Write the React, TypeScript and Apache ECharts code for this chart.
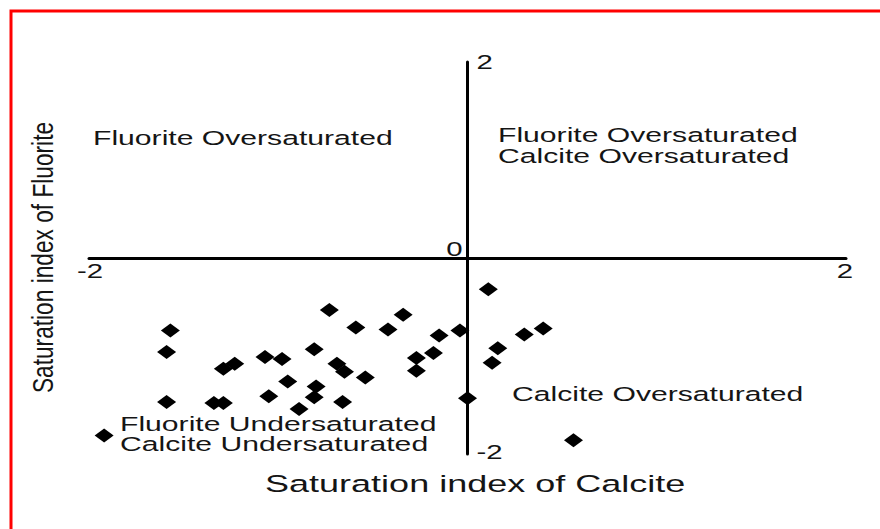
import React, { useEffect, useRef } from "react";
import * as echarts from "echarts";

const calciteSI = [0.11, -0.73, -0.34, -0.59, -0.42, -0.15, -0.04, -1.57, -1.59, -1.29, -1.23, -1.07, -0.98, -0.81, -0.69, -0.65, -0.54, -0.27, -0.18, -0.27, -0.95, -0.8, -0.81, -1.05, -0.89, -0.66, -1.59, -1.34, -1.29, 0.0, -1.92, 0.16, 0.13, 0.3, 0.4, 0.56];
const fluoriteSI = [-0.32, -0.53, -0.58, -0.71, -0.73, -0.79, -0.74, -0.74, -0.96, -1.13, -1.08, -1.01, -1.03, -0.93, -1.08, -1.16, -1.22, -1.02, -0.97, -1.15, -1.26, -1.31, -1.42, -1.41, -1.54, -1.47, -1.47, -1.48, -1.48, -1.43, -1.81, -0.92, -1.07, -0.78, -0.72, -1.86];
const axisTicks = [-2, 0, 2];
const xTitle = "Saturation index of Calcite";
const yTitle = "Saturation index of Fluorite";
const quadrantTL = ["Fluorite Oversaturated"];
const quadrantTR = ["Fluorite Oversaturated", "Calcite Oversaturated"];
const quadrantBR = ["Calcite Oversaturated"];
const quadrantBL = ["Fluorite Undersaturated", "Calcite Undersaturated"];

const FONT = "'Liberation Sans', Arial, Helvetica, sans-serif";
const TXT = "#151515";
const SX = 1.47;

export default function App() {
  const ref = useRef<HTMLDivElement>(null);
  useEffect(() => {
    document.body.style.margin = "0";
    const chart = echarts.init(ref.current!, null, { renderer: "svg" });
    const points = calciteSI.map((x, i) => [x, fluoriteSI[i]]);
    const txt = (text: string, x: number, y: number, size: number, align: string = "left") => ({
      type: "text",
      x,
      y,
      scaleX: SX,
      silent: true,
      style: {
        text,
        fill: TXT,
        fontSize: size,
        fontFamily: FONT,
        textVerticalAlign: "middle",
        textAlign: align,
      },
    });
    const lo = axisTicks[0];
    const hi = axisTicks[axisTicks.length - 1];
    chart.setOption({
      animation: false,
      backgroundColor: "#ffffff",
      grid: { left: 89, right: 34, top: 62, bottom: 75, containLabel: false },
      xAxis: {
        type: "value",
        min: lo,
        max: hi,
        interval: 2,
        axisLine: { onZero: true, lineStyle: { color: "#000", width: 3 } },
        axisTick: { show: false },
        splitLine: { show: false },
        axisLabel: { show: false },
      },
      yAxis: {
        type: "value",
        min: lo,
        max: hi,
        interval: 2,
        axisLine: { onZero: true, lineStyle: { color: "#000", width: 3 } },
        axisTick: { show: false },
        splitLine: { show: false },
        axisLabel: { show: false },
      },
      series: [
        {
          type: "scatter",
          data: points,
          symbol: "diamond",
          symbolSize: [19, 14],
          itemStyle: { color: "#000", opacity: 1 },
          z: 5,
        },
      ],
    });
    const px = (x: number, y: number) => chart.convertToPixel({ gridIndex: 0 }, [x, y]) as number[];
    const o = px(0, 0);
    const tickEls: any[] = [];
    axisTicks.forEach((t) => {
      if (t === 0) return;
      const p = px(t, 0);
      tickEls.push(txt(String(t), p[0] + (t < 0 ? 1 : -1), o[1] + 13, 20, "center"));
      const q = px(0, t);
      tickEls.push(txt(String(t), o[0] + 9, q[1] + (t < 0 ? -2 : 0), 20, "left"));
    });
    tickEls.push(txt(String(axisTicks[1]), o[0] - 13, o[1] - 9, 20, "center"));
    chart.setOption({
      graphic: {
        elements: [
          {
            type: "rect",
            silent: true,
            shape: { x: 11, y: 11, width: 900, height: 600 },
            style: { fill: "none", stroke: "#ff0000", lineWidth: 3 },
          },
          ...tickEls,
          txt(quadrantTL[0], 93, 138, 20.5),
          txt(quadrantTR[0], 498, 135, 20.5),
          txt(quadrantTR[1], 498, 156, 20.5),
          txt(quadrantBR[0], 512, 394, 20.5),
          txt(quadrantBL[0], 120, 424, 20.5),
          txt(quadrantBL[1], 120, 444, 20.5),
          txt(xTitle, 265, 484, 24.5),
          {
            type: "text",
            x: 42.5,
            y: 257.5,
            rotation: Math.PI / 2,
            scaleY: 1.3,
            silent: true,
            style: {
              text: yTitle,
              fill: TXT,
              fontSize: 22.7,
              fontFamily: FONT,
              textAlign: "center",
              textVerticalAlign: "middle",
            },
          },
        ],
      },
    });
    return () => chart.dispose();
  }, []);
  return (
    <div
      ref={ref}
      style={{ position: "fixed", left: 0, top: 0, width: 880, height: 529 }}
    />
  );
}
